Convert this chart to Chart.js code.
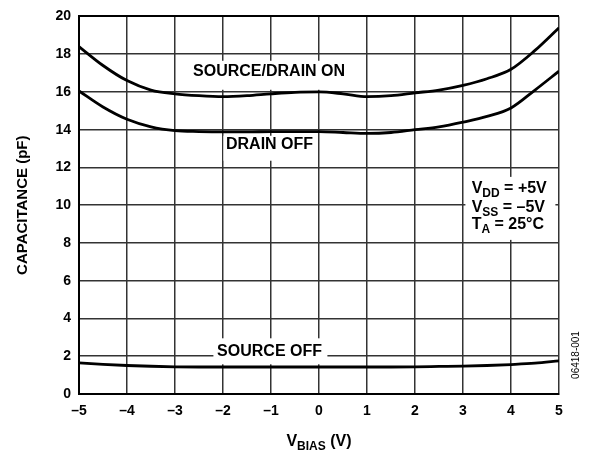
<!DOCTYPE html>
<html>
<head>
<meta charset="utf-8">
<script src="https://cdn.jsdelivr.net/npm/chart.js@4.4.1/dist/chart.umd.min.js"></script>
<style>
  html, body { margin: 0; padding: 0; background: #fff; }
  #wrap { width: 590px; height: 452px; position: relative; }
</style>
</head>
<body>
<div id="wrap"><canvas id="chart"></canvas></div>
<script>
// bias voltage (V)
const vBias = [-5, -4.5, -4, -3.5, -3, -2.5, -2, -1.5, -1, -0.5, 0, 0.5, 1, 1.5, 2, 2.5, 3, 3.5, 4, 4.5, 5];
// capacitance (pF)
const sourceDrainOn = [18.4, 17.4, 16.6, 16.1, 15.9, 15.8, 15.75, 15.8, 15.9, 15.98, 16.0, 15.9, 15.75, 15.8, 15.95, 16.1, 16.35, 16.7, 17.2, 18.2, 19.4];
const drainOff = [16.05, 15.2, 14.55, 14.15, 13.95, 13.9, 13.88, 13.88, 13.9, 13.9, 13.9, 13.85, 13.8, 13.85, 14.0, 14.15, 14.4, 14.7, 15.15, 16.1, 17.1];
const sourceOff = [1.65, 1.57, 1.51, 1.47, 1.44, 1.43, 1.43, 1.43, 1.43, 1.43, 1.43, 1.43, 1.43, 1.43, 1.44, 1.46, 1.48, 1.51, 1.56, 1.63, 1.76];

const xTicks = [-5, -4, -3, -2, -1, 0, 1, 2, 3, 4, 5];
const yTicks = [0, 2, 4, 6, 8, 10, 12, 14, 16, 18, 20];

const FONT = '"Liberation Sans", Arial, Helvetica, sans-serif';

function toPoints(ys) {
  return vBias.map((x, i) => ({ x: x, y: ys[i] }));
}

function curve(label, ys) {
  return {
    label: label,
    data: toPoints(ys),
    borderColor: '#000',
    borderWidth: 2.8,
    pointRadius: 0,
    fill: false,
    cubicInterpolationMode: 'monotone'
  };
}

// text with a subscript, drawn left to right from x
function drawSub(ctx, parts, x, y, big, small) {
  parts.forEach(p => {
    ctx.font = 'bold ' + (p.sub ? small : big) + 'px ' + FONT;
    ctx.fillText(p.t, x, y + (p.sub ? 4 : 0));
    x += ctx.measureText(p.t).width;
  });
  return x;
}

function subWidth(ctx, parts, big, small) {
  let w = 0;
  parts.forEach(p => {
    ctx.font = 'bold ' + (p.sub ? small : big) + 'px ' + FONT;
    w += ctx.measureText(p.t).width;
  });
  return w;
}

const labelBoxes = {
  id: 'labelBoxes',
  beforeDatasetsDraw(chart) {
    const { ctx, scales: { x, y } } = chart;
    ctx.save();
    ctx.fillStyle = '#fff';
    // white boxes that cut the grid behind the curve labels
    ctx.fillRect(x.getPixelForValue(-2.9), y.getPixelForValue(17.65), 175, 29);
    ctx.fillRect(x.getPixelForValue(-1.99), y.getPixelForValue(13.68), 92, 25);
    ctx.fillRect(x.getPixelForValue(-2.2), y.getPixelForValue(2.95), 114, 26);
    ctx.fillRect(x.getPixelForValue(3.05), y.getPixelForValue(11.5), 90, 63);
    ctx.restore();
  },
  afterDatasetsDraw(chart) {
    const { ctx, scales: { x, y } } = chart;
    ctx.save();
    ctx.fillStyle = '#000';
    ctx.textAlign = 'center';
    ctx.textBaseline = 'middle';
    ctx.font = 'bold 16px ' + FONT;
    ctx.fillText('SOURCE/DRAIN ON', x.getPixelForValue(-1.04), y.getPixelForValue(17.06));
    ctx.fillText('DRAIN OFF', x.getPixelForValue(-1.03), y.getPixelForValue(13.2));
    ctx.fillText('SOURCE OFF', x.getPixelForValue(-1.03), y.getPixelForValue(2.25));

    ctx.textAlign = 'left';
    ctx.textBaseline = 'alphabetic';
    const lx = x.getPixelForValue(3.18);
    drawSub(ctx, [{ t: 'V' }, { t: 'DD', sub: true }, { t: ' = +5V' }], lx, y.getPixelForValue(10.65), 16, 12);
    drawSub(ctx, [{ t: 'V' }, { t: 'SS', sub: true }, { t: ' = \u20135V' }], lx, y.getPixelForValue(9.65), 16, 12);
    drawSub(ctx, [{ t: 'T' }, { t: 'A', sub: true }, { t: ' = 25\u00b0C' }], lx, y.getPixelForValue(8.75), 16, 12);
    ctx.restore();
  },
  afterDraw(chart) {
    const { ctx, chartArea } = chart;
    ctx.save();
    ctx.fillStyle = '#000';
    // y axis title
    ctx.translate(23, (chartArea.top + chartArea.bottom) / 2);
    ctx.rotate(-Math.PI / 2);
    ctx.textAlign = 'center';
    ctx.textBaseline = 'middle';
    ctx.font = 'bold 15px ' + FONT;
    ctx.fillText('CAPACITANCE (pF)', 0, 0);
    ctx.restore();

    // x axis title
    ctx.save();
    ctx.fillStyle = '#000';
    ctx.textBaseline = 'alphabetic';
    const parts = [{ t: 'V' }, { t: 'BIAS', sub: true }, { t: ' (V)' }];
    const w = subWidth(ctx, parts, 16, 12);
    drawSub(ctx, parts, (chartArea.left + chartArea.right) / 2 - w / 2, 446, 16, 12);
    ctx.restore();

    // figure id
    ctx.save();
    ctx.fillStyle = '#000';
    ctx.translate(576, 355);
    ctx.rotate(-Math.PI / 2);
    ctx.textAlign = 'center';
    ctx.textBaseline = 'middle';
    ctx.font = '10px ' + FONT;
    ctx.fillText('06418-001', 0, 0);
    ctx.restore();
  }
};

new Chart(document.getElementById('chart'), {
  type: 'line',
  data: {
    datasets: [
      curve('SOURCE/DRAIN ON', sourceDrainOn),
      curve('DRAIN OFF', drainOff),
      curve('SOURCE OFF', sourceOff)
    ]
  },
  options: {
    responsive: true,
    maintainAspectRatio: false,
    animation: false,
    layout: {
      padding: { top: 11, right: 31, left: 0, bottom: 0 }
    },
    plugins: {
      legend: { display: false },
      tooltip: { enabled: false }
    },
    scales: {
      x: {
        type: 'linear',
        min: -5,
        max: 5,
        afterFit(scale) { scale.height = 58; },
        afterBuildTicks(scale) { scale.ticks = xTicks.map(v => ({ value: v })); },
        grid: { color: '#333', lineWidth: 1.5, drawTicks: false },
        border: { color: '#000', width: 2 },
        ticks: {
          padding: 9,
          color: '#000',
          font: { family: FONT, size: 14, weight: 'bold' },
          callback: v => String(v).replace('-', '\u2013')
        }
      },
      y: {
        min: 0,
        max: 20,
        afterFit(scale) { scale.width = 79; },
        afterBuildTicks(scale) { scale.ticks = yTicks.map(v => ({ value: v })); },
        grid: {
          color: ctx => (ctx.tick && ctx.tick.value === 20 ? '#000' : '#333'),
          lineWidth: ctx => (ctx.tick && ctx.tick.value === 20 ? 2 : 1.5),
          drawTicks: false
        },
        border: { color: '#000', width: 2 },
        ticks: {
          padding: 8,
          color: '#000',
          font: { family: FONT, size: 14, weight: 'bold' }
        }
      }
    }
  },
  plugins: [labelBoxes]
});
</script>
</body>
</html>
